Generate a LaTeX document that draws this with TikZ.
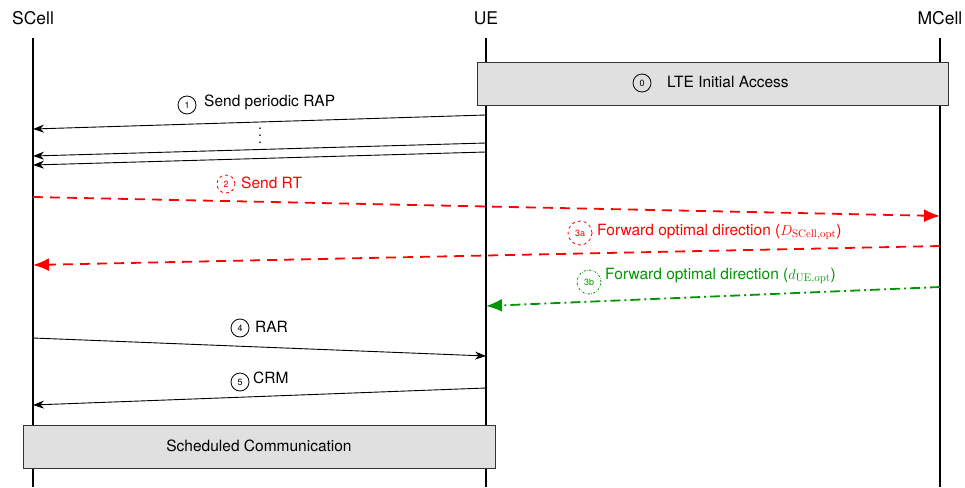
\documentclass[tikz,border=0pt]{standalone}
\usepackage[no-math]{fontspec}
\setmainfont{TeX Gyre Heros}
\usetikzlibrary{arrows.meta,positioning}
\definecolor{boxgray}{HTML}{E0E0E0}
\definecolor{mygreen}{RGB}{0,150,0}
\begin{document}
\begin{tikzpicture}[x=1pt,y=-1pt,
  every node/.style={font=\fontsize{15.5}{18}\selectfont, inner sep=0pt},
  head/.style={font=\fontsize{17.5}{20}\selectfont},
  life/.style={line width=2pt},
  msg/.style={line width=0.9pt,-{Stealth[length=11pt,width=8pt]}},
  redmsg/.style={line width=1.8pt,red,dash pattern=on 10pt off 7pt,-{Latex[length=16pt,width=13pt]}},
  greenmsg/.style={line width=1.8pt,mygreen,dash pattern=on 10pt off 4pt on 2pt off 4pt,-{Latex[length=16pt,width=13pt]}},
  num/.style={circle,draw,line width=0.8pt,minimum size=18pt,font=\fontsize{9}{10}\selectfont},
  bignum/.style={circle,draw,line width=0.8pt,minimum size=24pt,font=\fontsize{9}{10}\selectfont},
  phase/.style={draw=black!80,line width=0.8pt,fill=boxgray}
]
\useasboundingbox (0,0) rectangle (965,487);
% headers
\node[head] (hS) at (33,18) {SCell};
\node[head] (hU) at (486,18) {UE};
\node[head] (hM) at (940,18) {MCell};
% lifelines
\coordinate (sT) at (33,38); \coordinate (sB) at (33,487);
\coordinate (uT) at (486,38); \coordinate (uB) at (486,487);
\coordinate (mT) at (940,38); \coordinate (mB) at (940,487);
\draw[life] (sT) -- (sB);
\draw[life] (uT) -- (uB);
\draw[life] (mT) -- (mB);
% LTE box
\node[phase, minimum width=471pt, minimum height=43pt] (lte) at (712.5,83.5) {};
\node[num] (n0) at (642,83) {0};
\node[anchor=west] (t0) at (667,82) {LTE Initial Access};
% message 1
\coordinate (a1s) at (486,115); \coordinate (a1e) at (33,129);
\draw[msg] (a1s) -- (a1e);
\node[num] (n1) at (187,105) {1};
\node[anchor=west] (t1) at (204,102) {Send periodic RAP};
\node[align=center, font=\fontsize{14}{7}\selectfont, anchor=base] (dots) at (260,143) {.\\.\\.};
\coordinate (a2s) at (486,143); \coordinate (a2e) at (33,156);
\draw[msg] (a2s) -- (a2e);
\coordinate (a3s) at (486,152); \coordinate (a3e) at (33,165);
\draw[msg] (a3s) -- (a3e);
% message 2
\coordinate (b1s) at (33,197); \coordinate (b1e) at (940,216);
\draw[redmsg] (b1s) -- (b1e);
\node[num, red, dashed] (n2) at (226,184) {2};
\node[anchor=west, text=red] (t2) at (241,183) {Send RT};
% message 3a
\coordinate (c1s) at (940,246); \coordinate (c1e) at (33,265);
\draw[redmsg] (c1s) -- (c1e);
\node[bignum, red, dashed] (n3a) at (580,233) {3a};
\node[anchor=west, text=red] (t3a) at (597,232) {Forward optimal direction ($D_{\mathrm{SCell,opt}}$)};
% message 3b
\coordinate (d1s) at (940,287); \coordinate (d1e) at (486,306);
\draw[greenmsg] (d1s) -- (d1e);
\node[bignum, mygreen, dash pattern=on 2pt off 1.5pt on 0.5pt off 1.5pt] (n3b) at (589,282) {3b};
\node[anchor=west, text=mygreen] (t3b) at (605,276) {Forward optimal direction ($d_{\mathrm{UE,opt}}$)};
% message 4
\coordinate (e1s) at (33,338); \coordinate (e1e) at (486,356);
\draw[msg] (e1s) -- (e1e);
\node[num] (n4) at (240,328) {4};
\node[anchor=west] (t4) at (255,327) {RAR};
% message 5
\coordinate (f1s) at (486,388); \coordinate (f1e) at (33,405);
\draw[msg] (f1s) -- (f1e);
\node[num] (n5) at (240,382) {5};
\node[anchor=west] (t5) at (253,378) {CRM};
% scheduled communication box
\node[phase, minimum width=472pt, minimum height=43pt] (sched) at (259,446.5) {};
\node (t6) at (259,446) {Scheduled Communication};
\end{tikzpicture}
\end{document}
